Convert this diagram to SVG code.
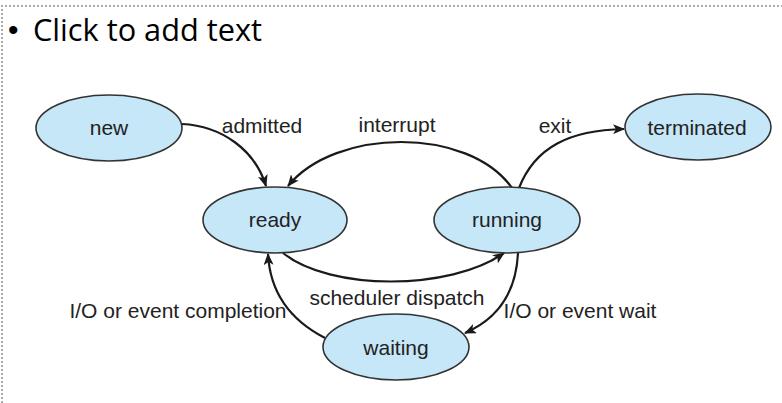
<svg xmlns="http://www.w3.org/2000/svg" width="782" height="403" viewBox="0 0 782 403">
<defs>
<style>
.node ellipse{fill:#c6e7f8;stroke:#333;stroke-width:1.6}
.lbl{font-family:"Liberation Sans",Arial,sans-serif;font-size:21px;fill:#222;text-anchor:middle}
.edge{fill:none;stroke:#1a1a1a;stroke-width:2.2}
.frame{stroke:#aaa;stroke-width:2;stroke-dasharray:2 2;fill:none}
</style>
<marker id="arr" viewBox="0 0 12 10" refX="11" refY="5" markerWidth="12" markerHeight="10" markerUnits="userSpaceOnUse" orient="auto">
<path d="M0,0 L12,5 L0,10 L3,5 z" fill="#1a1a1a"/>
</marker>
</defs>
<rect width="782" height="403" fill="#fff"/>
<path class="frame" d="M2,403 V6 H782"/>
<text x="8" y="40" font-family="'Liberation Sans',Arial,sans-serif" font-size="30" fill="#000">•</text>
<text x="33" y="41" font-family="'Open Sans','Noto Sans',sans-serif" font-size="31" fill="#000" textLength="229" lengthAdjust="spacingAndGlyphs">Click to add text</text>

<g id="connectors">
<path id="e-admitted" class="edge" marker-end="url(#arr)" d="M182,124 C222,126 255,150 266,186"/>
<path id="e-interrupt" class="edge" marker-end="url(#arr)" d="M512,188 C468,126 335,128 288,186"/>
<path id="e-exit" class="edge" marker-end="url(#arr)" d="M519,188 C535,147 570,130 624,129"/>
<path id="e-dispatch" class="edge" marker-end="url(#arr)" d="M283,253 C330,291 450,291 504,253"/>
<path id="e-wait" class="edge" marker-end="url(#arr)" d="M518,253 C516,295 495,320 465,333"/>
<path id="e-completion" class="edge" marker-end="url(#arr)" d="M325,338 C290,320 270,292 268,254"/>
<text class="lbl" x="262" y="133">admitted</text>
<text class="lbl" x="397" y="132">interrupt</text>
<text class="lbl" x="555" y="133">exit</text>
<text class="lbl" x="397" y="305">scheduler dispatch</text>
<text class="lbl" x="178" y="318">I/O or event completion</text>
<text class="lbl" x="580" y="318">I/O or event wait</text>
</g>

<g id="node-new" class="node"><ellipse cx="109" cy="128" rx="73" ry="33"/><text class="lbl" x="109" y="135">new</text></g>
<g id="node-ready" class="node"><ellipse cx="275" cy="220" rx="72" ry="33"/><text class="lbl" x="275" y="227">ready</text></g>
<g id="node-running" class="node"><ellipse cx="507" cy="220" rx="73" ry="33"/><text class="lbl" x="507" y="227">running</text></g>
<g id="node-terminated" class="node"><ellipse cx="698" cy="127" rx="73" ry="33"/><text class="lbl" x="697" y="135">terminated</text></g>
<g id="node-waiting" class="node"><ellipse cx="396" cy="347" rx="73" ry="33"/><text class="lbl" x="396" y="355">waiting</text></g>
</svg>
